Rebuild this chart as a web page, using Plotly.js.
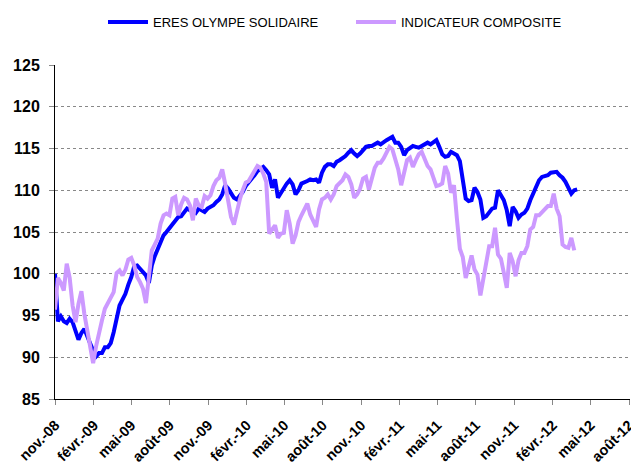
<!DOCTYPE html>
<html>
<head>
<meta charset="utf-8">
<script src="https://cdn.plot.ly/plotly-3.0.1.min.js"></script>
<style>html,body{margin:0;padding:0;background:#fff;}#chart{width:631px;height:465px;}</style>
</head>
<body>
<div id="chart"></div>
<script>
// Weekly dates (Fridays)
const weeks = [
 '2008-10-31','2008-11-07','2008-11-14','2008-11-21','2008-11-28','2008-12-05','2008-12-12','2008-12-19','2008-12-26',
 '2009-01-02','2009-01-09','2009-01-16','2009-01-23','2009-01-30','2009-02-06','2009-02-13','2009-02-20','2009-02-27',
 '2009-03-06','2009-03-13','2009-03-20','2009-03-27','2009-04-03','2009-04-10','2009-04-17','2009-04-24',
 '2009-05-01','2009-05-08','2009-05-15','2009-05-22','2009-05-29','2009-06-05','2009-06-12','2009-06-19','2009-06-26',
 '2009-07-03','2009-07-10','2009-07-17','2009-07-24','2009-07-31','2009-08-07','2009-08-14','2009-08-21','2009-08-28',
 '2009-09-04','2009-09-11','2009-09-18','2009-09-25','2009-10-02','2009-10-09','2009-10-16','2009-10-23','2009-10-30',
 '2009-11-06','2009-11-13','2009-11-20','2009-11-27','2009-12-04','2009-12-11','2009-12-18','2009-12-25',
 '2010-01-01','2010-01-08','2010-01-15','2010-01-22','2010-01-29','2010-02-05','2010-02-12','2010-02-19','2010-02-26',
 '2010-03-05','2010-03-12','2010-03-19','2010-03-26','2010-04-02','2010-04-09','2010-04-16','2010-04-23','2010-04-30',
 '2010-05-07','2010-05-14','2010-05-21','2010-05-28','2010-06-04','2010-06-11','2010-06-18','2010-06-25',
 '2010-07-02','2010-07-09','2010-07-16','2010-07-23','2010-07-30','2010-08-06','2010-08-13','2010-08-20','2010-08-27',
 '2010-09-03','2010-09-10','2010-09-17','2010-09-24','2010-10-01','2010-10-08','2010-10-15','2010-10-22','2010-10-29',
 '2010-11-05','2010-11-12','2010-11-19','2010-11-26','2010-12-03','2010-12-10','2010-12-17','2010-12-24','2010-12-31',
 '2011-01-07','2011-01-14','2011-01-21','2011-01-28','2011-02-04','2011-02-11','2011-02-18','2011-02-25',
 '2011-03-04','2011-03-11','2011-03-18','2011-03-25','2011-04-01','2011-04-08','2011-04-15','2011-04-22','2011-04-29',
 '2011-05-06','2011-05-13','2011-05-20','2011-05-27','2011-06-03','2011-06-10','2011-06-17','2011-06-24',
 '2011-07-01','2011-07-08','2011-07-15','2011-07-22','2011-07-29','2011-08-05','2011-08-12','2011-08-19','2011-08-26',
 '2011-09-02','2011-09-09','2011-09-16','2011-09-23','2011-09-30','2011-10-07','2011-10-14','2011-10-21','2011-10-28',
 '2011-11-04','2011-11-11','2011-11-18','2011-11-25','2011-12-02','2011-12-09','2011-12-16','2011-12-23','2011-12-30',
 '2012-01-06','2012-01-13','2012-01-20','2012-01-27','2012-02-03','2012-02-10','2012-02-17','2012-02-24',
 '2012-03-02','2012-03-09','2012-03-16','2012-03-23','2012-03-30'
];

const eresValues = [
 100.0,94.3,94.9,94.3,94.1,94.6,94.2,93.3,92.1,
 92.9,93.4,92.5,91.5,90.8,90.1,90.5,90.5,91.2,
 91.2,91.7,93.0,94.8,96.2,96.9,97.6,98.7,
 99.6,100.9,101.0,100.6,100.2,99.8,98.9,101.0,102.1,
 103.0,103.7,104.6,105.0,105.5,105.8,106.4,106.8,106.9,
 107.3,107.8,107.6,107.6,107.3,107.8,107.6,107.4,107.8,
 108.0,108.2,108.6,108.9,109.5,110.6,110.2,109.7,
 109.1,108.9,109.3,109.8,110.5,110.9,111.3,111.8,112.3,
 112.6,112.8,112.4,111.9,110.3,111.3,109.1,109.7,110.1,
 110.8,111.2,110.7,109.5,110.0,110.8,110.9,111.1,
 111.3,111.2,111.3,110.9,112.1,112.8,113.1,113.1,112.9,
 113.4,113.6,113.8,114.1,114.5,114.8,114.4,114.1,114.4,
 114.9,115.2,115.3,115.3,115.5,115.7,115.5,115.8,116.0,
 116.2,116.4,115.7,115.7,115.2,114.2,114.8,115.1,
 115.3,115.2,115.1,115.3,115.5,115.7,115.5,115.8,116.0,
 115.2,114.3,114.0,114.1,114.6,114.4,114.2,113.5,
 111.5,109.0,108.7,108.8,110.3,109.8,108.9,106.7,106.9,
 107.4,107.8,107.9,110.0,109.4,108.8,107.6,105.7,108.0,
 107.5,106.7,107.1,107.3,107.8,108.8,109.6,110.6,111.2,
 111.6,111.7,111.8,112.1,112.1,112.2,111.8,111.5,
 111.0,110.3,109.6,110.0,110.1
];

const compositeValues = [
 95.7,99.5,98.9,98.0,101.2,99.5,96.2,94.2,96.4,
 97.9,95.2,93.2,91.8,89.3,91.3,93.1,94.4,95.8,
 96.4,97.1,97.8,100.1,100.4,99.8,100.5,101.7,
 101.9,101.0,99.6,99.0,98.2,96.5,99.8,102.8,103.5,
 104.2,106.0,107.0,107.2,107.0,109.0,109.2,107.0,108.3,
 109.1,108.9,108.2,106.4,109.0,108.2,108.0,109.3,109.0,
 109.4,110.5,111.2,111.5,112.5,110.8,108.9,106.8,
 105.9,107.5,108.9,110.0,110.9,111.1,111.6,112.3,112.9,
 112.7,112.0,111.0,104.8,105.4,105.8,104.3,104.8,104.9,
 107.6,106.0,103.6,104.6,106.2,107.0,107.6,108.4,
 107.1,106.3,105.6,107.7,108.9,109.1,109.5,108.9,109.5,
 110.5,110.8,111.2,111.9,111.6,110.7,109.1,109.5,110.2,
 111.4,111.6,110.1,111.5,112.7,113.3,113.3,113.8,114.5,
 115.2,114.9,113.8,112.5,110.6,112.3,113.6,113.9,
 112.8,113.6,114.3,114.6,113.6,112.9,112.5,111.6,110.5,
 110.6,110.8,112.9,112.0,109.7,110.6,106.6,103.0,
 102.0,99.5,100.8,102.2,100.5,99.9,97.4,99.5,101.5,
 103.3,103.3,105.5,102.3,101.8,100.1,98.3,102.5,101.5,
 99.7,101.6,102.5,102.5,103.3,105.3,105.6,107.0,107.0,
 107.4,107.8,108.1,108.1,109.6,107.8,106.9,103.5,
 103.2,103.1,104.3,102.8
];

const tickDates = ['2008-11-01','2009-02-01','2009-05-01','2009-08-01','2009-11-01','2010-02-01','2010-05-01','2010-08-01',
 '2010-11-01','2011-02-01','2011-05-01','2011-08-01','2011-11-01','2012-02-01','2012-05-01','2012-08-01'];
const tickLabels = ['nov.-08','févr.-09','mai-09','août-09','nov.-09','févr.-10','mai-10','août-10',
 'nov.-10','févr.-11','mai-11','août-11','nov.-11','févr.-12','mai-12','août-12'];
const yTicks = [85,90,95,100,105,110,115,120,125];

const FONT = 'Arial, "Liberation Sans", sans-serif';

const traces = [
  {x: weeks, y: eresValues, type: 'scatter', mode: 'lines', name: 'ERES OLYMPE SOLIDAIRE',
   line: {color: '#0000FF', width: 4}},
  {x: weeks.slice(0, compositeValues.length), y: compositeValues, type: 'scatter', mode: 'lines', name: 'INDICATEUR COMPOSITE',
   line: {color: '#CC99FF', width: 4}}
];

const layout = {
  width: 631, height: 465,
  margin: {l: 55, r: 1, t: 65, b: 66},
  paper_bgcolor: '#fff', plot_bgcolor: '#fff',
  font: {family: FONT, color: '#000'},
  showlegend: true,
  legend: {orientation: 'h', xref: 'container', yref: 'container', x: 103/631, xanchor: 'left', y: 0.985, yanchor: 'top',
           font: {family: FONT, size: 13, color: '#000'}, itemwidth: 40, entrywidth: 193, entrywidthmode: 'pixels',
           tracegroupgap: 0, bgcolor: 'rgba(0,0,0,0)'},
  xaxis: {
    type: 'date', range: ['2008-10-31', '2012-08-03'],
    tickmode: 'array', tickvals: tickDates, ticktext: tickLabels, tickangle: -45,
    tickfont: {family: FONT, size: 14.5, weight: 'bold', color: '#000'},
    ticklabeloverflow: 'allow',
    showgrid: false, zeroline: false,
    showline: true, linecolor: '#000', linewidth: 1,
    ticks: 'outside', ticklen: 5, tickcolor: '#888', tickwidth: 1, ticklabelstandoff: 6
  },
  yaxis: {
    range: [85, 125], tickmode: 'array', tickvals: yTicks,
    tickfont: {family: FONT, size: 16, weight: 'bold', color: '#000'},
    showgrid: true, gridcolor: '#888', griddash: 'dot', gridwidth: 1,
    zeroline: false, showline: true, linecolor: '#000', linewidth: 1,
    ticks: 'outside', ticklen: 5, tickcolor: '#888', tickwidth: 1, ticklabelstandoff: 6
  }
};

Plotly.newPlot('chart', traces, layout, {displayModeBar: false, staticPlot: true});
</script>
</body>
</html>
